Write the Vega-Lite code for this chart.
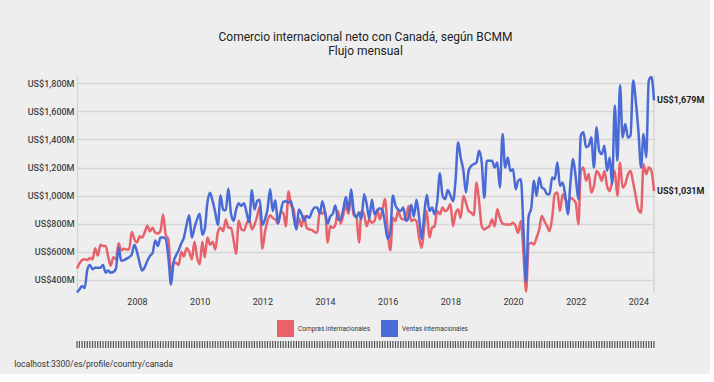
{
  "$schema": "https://vega.github.io/schema/vega-lite/v6.json",
  "background": "#eeeeee",
  "padding": {"left": 14, "top": 31, "right": 5, "bottom": 5},
  "config": {
    "font": "Roboto, sans-serif",
    "view": {"stroke": null}
  },
  "datasets": {
    "trade": [
      {"fecha":"2006-02-01","Compras internacionales":480,"Ventas internacionales":310},
      {"fecha":"2006-03-01","Compras internacionales":515,"Ventas internacionales":330},
      {"fecha":"2006-04-01","Compras internacionales":540,"Ventas internacionales":355},
      {"fecha":"2006-05-01","Compras internacionales":545,"Ventas internacionales":340},
      {"fecha":"2006-06-01","Compras internacionales":540,"Ventas internacionales":470},
      {"fecha":"2006-07-01","Compras internacionales":555,"Ventas internacionales":505},
      {"fecha":"2006-08-01","Compras internacionales":545,"Ventas internacionales":475},
      {"fecha":"2006-09-01","Compras internacionales":625,"Ventas internacionales":485},
      {"fecha":"2006-10-01","Compras internacionales":570,"Ventas internacionales":485},
      {"fecha":"2006-11-01","Compras internacionales":650,"Ventas internacionales":485},
      {"fecha":"2006-12-01","Compras internacionales":640,"Ventas internacionales":505},
      {"fecha":"2007-01-01","Compras internacionales":640,"Ventas internacionales":450},
      {"fecha":"2007-02-01","Compras internacionales":560,"Ventas internacionales":465},
      {"fecha":"2007-03-01","Compras internacionales":500,"Ventas internacionales":450},
      {"fecha":"2007-04-01","Compras internacionales":560,"Ventas internacionales":455},
      {"fecha":"2007-05-01","Compras internacionales":545,"Ventas internacionales":480},
      {"fecha":"2007-06-01","Compras internacionales":660,"Ventas internacionales":630},
      {"fecha":"2007-07-01","Compras internacionales":610,"Ventas internacionales":535},
      {"fecha":"2007-08-01","Compras internacionales":620,"Ventas internacionales":540},
      {"fecha":"2007-09-01","Compras internacionales":615,"Ventas internacionales":550},
      {"fecha":"2007-10-01","Compras internacionales":615,"Ventas internacionales":560},
      {"fecha":"2007-11-01","Compras internacionales":740,"Ventas internacionales":580},
      {"fecha":"2007-12-01","Compras internacionales":690,"Ventas internacionales":650},
      {"fecha":"2008-01-01","Compras internacionales":665,"Ventas internacionales":600},
      {"fecha":"2008-02-01","Compras internacionales":710,"Ventas internacionales":520},
      {"fecha":"2008-03-01","Compras internacionales":700,"Ventas internacionales":465},
      {"fecha":"2008-04-01","Compras internacionales":740,"Ventas internacionales":490},
      {"fecha":"2008-05-01","Compras internacionales":785,"Ventas internacionales":535},
      {"fecha":"2008-06-01","Compras internacionales":745,"Ventas internacionales":570},
      {"fecha":"2008-07-01","Compras internacionales":770,"Ventas internacionales":590},
      {"fecha":"2008-08-01","Compras internacionales":735,"Ventas internacionales":680},
      {"fecha":"2008-09-01","Compras internacionales":730,"Ventas internacionales":640},
      {"fecha":"2008-10-01","Compras internacionales":750,"Ventas internacionales":700},
      {"fecha":"2008-11-01","Compras internacionales":865,"Ventas internacionales":700},
      {"fecha":"2008-12-01","Compras internacionales":720,"Ventas internacionales":690},
      {"fecha":"2009-01-01","Compras internacionales":690,"Ventas internacionales":560},
      {"fecha":"2009-02-01","Compras internacionales":440,"Ventas internacionales":365},
      {"fecha":"2009-03-01","Compras internacionales":515,"Ventas internacionales":520},
      {"fecha":"2009-04-01","Compras internacionales":520,"Ventas internacionales":575},
      {"fecha":"2009-05-01","Compras internacionales":505,"Ventas internacionales":610},
      {"fecha":"2009-06-01","Compras internacionales":600,"Ventas internacionales":660},
      {"fecha":"2009-07-01","Compras internacionales":565,"Ventas internacionales":700},
      {"fecha":"2009-08-01","Compras internacionales":625,"Ventas internacionales":790},
      {"fecha":"2009-09-01","Compras internacionales":600,"Ventas internacionales":860},
      {"fecha":"2009-10-01","Compras internacionales":545,"Ventas internacionales":700},
      {"fecha":"2009-11-01","Compras internacionales":670,"Ventas internacionales":770},
      {"fecha":"2009-12-01","Compras internacionales":560,"Ventas internacionales":830},
      {"fecha":"2010-01-01","Compras internacionales":510,"Ventas internacionales":870},
      {"fecha":"2010-02-01","Compras internacionales":670,"Ventas internacionales":720},
      {"fecha":"2010-03-01","Compras internacionales":560,"Ventas internacionales":760},
      {"fecha":"2010-04-01","Compras internacionales":700,"Ventas internacionales":950},
      {"fecha":"2010-05-01","Compras internacionales":650,"Ventas internacionales":1020},
      {"fecha":"2010-06-01","Compras internacionales":670,"Ventas internacionales":960},
      {"fecha":"2010-07-01","Compras internacionales":615,"Ventas internacionales":880},
      {"fecha":"2010-08-01","Compras internacionales":740,"Ventas internacionales":790},
      {"fecha":"2010-09-01","Compras internacionales":770,"Ventas internacionales":1000},
      {"fecha":"2010-10-01","Compras internacionales":745,"Ventas internacionales":900},
      {"fecha":"2010-11-01","Compras internacionales":830,"Ventas internacionales":895},
      {"fecha":"2010-12-01","Compras internacionales":770,"Ventas internacionales":1050},
      {"fecha":"2011-01-01","Compras internacionales":770,"Ventas internacionales":870},
      {"fecha":"2011-02-01","Compras internacionales":680,"Ventas internacionales":820},
      {"fecha":"2011-03-01","Compras internacionales":585,"Ventas internacionales":900},
      {"fecha":"2011-04-01","Compras internacionales":820,"Ventas internacionales":945},
      {"fecha":"2011-05-01","Compras internacionales":760,"Ventas internacionales":925},
      {"fecha":"2011-06-01","Compras internacionales":750,"Ventas internacionales":945},
      {"fecha":"2011-07-01","Compras internacionales":800,"Ventas internacionales":880},
      {"fecha":"2011-08-01","Compras internacionales":830,"Ventas internacionales":810},
      {"fecha":"2011-09-01","Compras internacionales":760,"Ventas internacionales":1040},
      {"fecha":"2011-10-01","Compras internacionales":790,"Ventas internacionales":900},
      {"fecha":"2011-11-01","Compras internacionales":850,"Ventas internacionales":960},
      {"fecha":"2011-12-01","Compras internacionales":920,"Ventas internacionales":970},
      {"fecha":"2012-01-01","Compras internacionales":620,"Ventas internacionales":790},
      {"fecha":"2012-02-01","Compras internacionales":740,"Ventas internacionales":830},
      {"fecha":"2012-03-01","Compras internacionales":820,"Ventas internacionales":900},
      {"fecha":"2012-04-01","Compras internacionales":860,"Ventas internacionales":1045},
      {"fecha":"2012-05-01","Compras internacionales":840,"Ventas internacionales":890},
      {"fecha":"2012-06-01","Compras internacionales":830,"Ventas internacionales":966},
      {"fecha":"2012-07-01","Compras internacionales":800,"Ventas internacionales":800},
      {"fecha":"2012-08-01","Compras internacionales":880,"Ventas internacionales":880},
      {"fecha":"2012-09-01","Compras internacionales":880,"Ventas internacionales":955},
      {"fecha":"2012-10-01","Compras internacionales":780,"Ventas internacionales":960},
      {"fecha":"2012-11-01","Compras internacionales":1030,"Ventas internacionales":950},
      {"fecha":"2012-12-01","Compras internacionales":930,"Ventas internacionales":960},
      {"fecha":"2013-01-01","Compras internacionales":900,"Ventas internacionales":845},
      {"fecha":"2013-02-01","Compras internacionales":760,"Ventas internacionales":760},
      {"fecha":"2013-03-01","Compras internacionales":840,"Ventas internacionales":900},
      {"fecha":"2013-04-01","Compras internacionales":780,"Ventas internacionales":870},
      {"fecha":"2013-05-01","Compras internacionales":854,"Ventas internacionales":820},
      {"fecha":"2013-06-01","Compras internacionales":770,"Ventas internacionales":854},
      {"fecha":"2013-07-01","Compras internacionales":758,"Ventas internacionales":842},
      {"fecha":"2013-08-01","Compras internacionales":755,"Ventas internacionales":885},
      {"fecha":"2013-09-01","Compras internacionales":740,"Ventas internacionales":915},
      {"fecha":"2013-10-01","Compras internacionales":735,"Ventas internacionales":915},
      {"fecha":"2013-11-01","Compras internacionales":890,"Ventas internacionales":870},
      {"fecha":"2013-12-01","Compras internacionales":870,"Ventas internacionales":960},
      {"fecha":"2014-01-01","Compras internacionales":890,"Ventas internacionales":880},
      {"fecha":"2014-02-01","Compras internacionales":665,"Ventas internacionales":800},
      {"fecha":"2014-03-01","Compras internacionales":782,"Ventas internacionales":850},
      {"fecha":"2014-04-01","Compras internacionales":770,"Ventas internacionales":870},
      {"fecha":"2014-05-01","Compras internacionales":790,"Ventas internacionales":930},
      {"fecha":"2014-06-01","Compras internacionales":890,"Ventas internacionales":830},
      {"fecha":"2014-07-01","Compras internacionales":800,"Ventas internacionales":830},
      {"fecha":"2014-08-01","Compras internacionales":860,"Ventas internacionales":900},
      {"fecha":"2014-09-01","Compras internacionales":935,"Ventas internacionales":990},
      {"fecha":"2014-10-01","Compras internacionales":870,"Ventas internacionales":890},
      {"fecha":"2014-11-01","Compras internacionales":1005,"Ventas internacionales":1045},
      {"fecha":"2014-12-01","Compras internacionales":860,"Ventas internacionales":890},
      {"fecha":"2015-01-01","Compras internacionales":850,"Ventas internacionales":845},
      {"fecha":"2015-02-01","Compras internacionales":665,"Ventas internacionales":880},
      {"fecha":"2015-03-01","Compras internacionales":890,"Ventas internacionales":830},
      {"fecha":"2015-04-01","Compras internacionales":866,"Ventas internacionales":1010},
      {"fecha":"2015-05-01","Compras internacionales":782,"Ventas internacionales":940},
      {"fecha":"2015-06-01","Compras internacionales":830,"Ventas internacionales":835},
      {"fecha":"2015-07-01","Compras internacionales":806,"Ventas internacionales":970},
      {"fecha":"2015-08-01","Compras internacionales":818,"Ventas internacionales":866},
      {"fecha":"2015-09-01","Compras internacionales":900,"Ventas internacionales":890},
      {"fecha":"2015-10-01","Compras internacionales":830,"Ventas internacionales":910},
      {"fecha":"2015-11-01","Compras internacionales":900,"Ventas internacionales":895},
      {"fecha":"2015-12-01","Compras internacionales":975,"Ventas internacionales":800},
      {"fecha":"2016-01-01","Compras internacionales":746,"Ventas internacionales":690},
      {"fecha":"2016-02-01","Compras internacionales":610,"Ventas internacionales":740},
      {"fecha":"2016-03-01","Compras internacionales":842,"Ventas internacionales":1000},
      {"fecha":"2016-04-01","Compras internacionales":818,"Ventas internacionales":930},
      {"fecha":"2016-05-01","Compras internacionales":890,"Ventas internacionales":900},
      {"fecha":"2016-06-01","Compras internacionales":842,"Ventas internacionales":890},
      {"fecha":"2016-07-01","Compras internacionales":830,"Ventas internacionales":914},
      {"fecha":"2016-08-01","Compras internacionales":842,"Ventas internacionales":820},
      {"fecha":"2016-09-01","Compras internacionales":926,"Ventas internacionales":842},
      {"fecha":"2016-10-01","Compras internacionales":818,"Ventas internacionales":935},
      {"fecha":"2016-11-01","Compras internacionales":830,"Ventas internacionales":850},
      {"fecha":"2016-12-01","Compras internacionales":818,"Ventas internacionales":970},
      {"fecha":"2017-01-01","Compras internacionales":700,"Ventas internacionales":845},
      {"fecha":"2017-02-01","Compras internacionales":627,"Ventas internacionales":690},
      {"fecha":"2017-03-01","Compras internacionales":770,"Ventas internacionales":860},
      {"fecha":"2017-04-01","Compras internacionales":890,"Ventas internacionales":1005},
      {"fecha":"2017-05-01","Compras internacionales":700,"Ventas internacionales":890},
      {"fecha":"2017-06-01","Compras internacionales":770,"Ventas internacionales":914},
      {"fecha":"2017-07-01","Compras internacionales":782,"Ventas internacionales":866},
      {"fecha":"2017-08-01","Compras internacionales":890,"Ventas internacionales":960},
      {"fecha":"2017-09-01","Compras internacionales":866,"Ventas internacionales":1160},
      {"fecha":"2017-10-01","Compras internacionales":914,"Ventas internacionales":1000},
      {"fecha":"2017-11-01","Compras internacionales":890,"Ventas internacionales":975},
      {"fecha":"2017-12-01","Compras internacionales":902,"Ventas internacionales":1040},
      {"fecha":"2018-01-01","Compras internacionales":940,"Ventas internacionales":1000},
      {"fecha":"2018-02-01","Compras internacionales":782,"Ventas internacionales":960},
      {"fecha":"2018-03-01","Compras internacionales":870,"Ventas internacionales":1100},
      {"fecha":"2018-04-01","Compras internacionales":900,"Ventas internacionales":1380},
      {"fecha":"2018-05-01","Compras internacionales":840,"Ventas internacionales":1270},
      {"fecha":"2018-06-01","Compras internacionales":997,"Ventas internacionales":1180},
      {"fecha":"2018-07-01","Compras internacionales":949,"Ventas internacionales":1021},
      {"fecha":"2018-08-01","Compras internacionales":890,"Ventas internacionales":1176},
      {"fecha":"2018-09-01","Compras internacionales":878,"Ventas internacionales":1212},
      {"fecha":"2018-10-01","Compras internacionales":860,"Ventas internacionales":1224},
      {"fecha":"2018-11-01","Compras internacionales":1093,"Ventas internacionales":1236},
      {"fecha":"2018-12-01","Compras internacionales":961,"Ventas internacionales":1320},
      {"fecha":"2019-01-01","Compras internacionales":782,"Ventas internacionales":1236},
      {"fecha":"2019-02-01","Compras internacionales":758,"Ventas internacionales":985},
      {"fecha":"2019-03-01","Compras internacionales":770,"Ventas internacionales":1248},
      {"fecha":"2019-04-01","Compras internacionales":782,"Ventas internacionales":1248},
      {"fecha":"2019-05-01","Compras internacionales":830,"Ventas internacionales":1248},
      {"fecha":"2019-06-01","Compras internacionales":780,"Ventas internacionales":1200},
      {"fecha":"2019-07-01","Compras internacionales":902,"Ventas internacionales":1236},
      {"fecha":"2019-08-01","Compras internacionales":842,"Ventas internacionales":1057},
      {"fecha":"2019-09-01","Compras internacionales":800,"Ventas internacionales":1439},
      {"fecha":"2019-10-01","Compras internacionales":794,"Ventas internacionales":1200},
      {"fecha":"2019-11-01","Compras internacionales":794,"Ventas internacionales":1272},
      {"fecha":"2019-12-01","Compras internacionales":794,"Ventas internacionales":1176},
      {"fecha":"2020-01-01","Compras internacionales":806,"Ventas internacionales":1188},
      {"fecha":"2020-02-01","Compras internacionales":780,"Ventas internacionales":1045},
      {"fecha":"2020-03-01","Compras internacionales":734,"Ventas internacionales":1105},
      {"fecha":"2020-04-01","Compras internacionales":818,"Ventas internacionales":1117},
      {"fecha":"2020-05-01","Compras internacionales":600,"Ventas internacionales":770},
      {"fecha":"2020-06-01","Compras internacionales":316,"Ventas internacionales":385},
      {"fecha":"2020-07-01","Compras internacionales":650,"Ventas internacionales":850},
      {"fecha":"2020-08-01","Compras internacionales":663,"Ventas internacionales":914},
      {"fecha":"2020-09-01","Compras internacionales":651,"Ventas internacionales":1105},
      {"fecha":"2020-10-01","Compras internacionales":700,"Ventas internacionales":997},
      {"fecha":"2020-11-01","Compras internacionales":758,"Ventas internacionales":1129},
      {"fecha":"2020-12-01","Compras internacionales":854,"Ventas internacionales":1057},
      {"fecha":"2021-01-01","Compras internacionales":818,"Ventas internacionales":1045},
      {"fecha":"2021-02-01","Compras internacionales":782,"Ventas internacionales":1009},
      {"fecha":"2021-03-01","Compras internacionales":746,"Ventas internacionales":1009},
      {"fecha":"2021-04-01","Compras internacionales":842,"Ventas internacionales":1129},
      {"fecha":"2021-05-01","Compras internacionales":1009,"Ventas internacionales":1117},
      {"fecha":"2021-06-01","Compras internacionales":1021,"Ventas internacionales":1236},
      {"fecha":"2021-07-01","Compras internacionales":890,"Ventas internacionales":1069},
      {"fecha":"2021-08-01","Compras internacionales":1009,"Ventas internacionales":1093},
      {"fecha":"2021-09-01","Compras internacionales":973,"Ventas internacionales":1000},
      {"fecha":"2021-10-01","Compras internacionales":949,"Ventas internacionales":866},
      {"fecha":"2021-11-01","Compras internacionales":985,"Ventas internacionales":1100},
      {"fecha":"2021-12-01","Compras internacionales":973,"Ventas internacionales":1260},
      {"fecha":"2022-01-01","Compras internacionales":949,"Ventas internacionales":1129},
      {"fecha":"2022-02-01","Compras internacionales":794,"Ventas internacionales":973},
      {"fecha":"2022-03-01","Compras internacionales":1176,"Ventas internacionales":1427},
      {"fecha":"2022-04-01","Compras internacionales":1200,"Ventas internacionales":1451},
      {"fecha":"2022-05-01","Compras internacionales":1105,"Ventas internacionales":1344},
      {"fecha":"2022-06-01","Compras internacionales":1153,"Ventas internacionales":1355},
      {"fecha":"2022-07-01","Compras internacionales":1021,"Ventas internacionales":1415},
      {"fecha":"2022-08-01","Compras internacionales":1069,"Ventas internacionales":1200},
      {"fecha":"2022-09-01","Compras internacionales":1176,"Ventas internacionales":1487},
      {"fecha":"2022-10-01","Compras internacionales":1153,"Ventas internacionales":1320},
      {"fecha":"2022-11-01","Compras internacionales":1105,"Ventas internacionales":1296},
      {"fecha":"2022-12-01","Compras internacionales":1176,"Ventas internacionales":1355},
      {"fecha":"2023-01-01","Compras internacionales":1069,"Ventas internacionales":1176},
      {"fecha":"2023-02-01","Compras internacionales":1033,"Ventas internacionales":1272},
      {"fecha":"2023-03-01","Compras internacionales":1100,"Ventas internacionales":1081},
      {"fecha":"2023-04-01","Compras internacionales":1176,"Ventas internacionales":1642},
      {"fecha":"2023-05-01","Compras internacionales":997,"Ventas internacionales":1248},
      {"fecha":"2023-06-01","Compras internacionales":1236,"Ventas internacionales":1786},
      {"fecha":"2023-07-01","Compras internacionales":1057,"Ventas internacionales":1415},
      {"fecha":"2023-08-01","Compras internacionales":1081,"Ventas internacionales":1511},
      {"fecha":"2023-09-01","Compras internacionales":1150,"Ventas internacionales":1415},
      {"fecha":"2023-10-01","Compras internacionales":1176,"Ventas internacionales":1427},
      {"fecha":"2023-11-01","Compras internacionales":1093,"Ventas internacionales":1821},
      {"fecha":"2023-12-01","Compras internacionales":997,"Ventas internacionales":1678},
      {"fecha":"2024-01-01","Compras internacionales":900,"Ventas internacionales":1463},
      {"fecha":"2024-02-01","Compras internacionales":878,"Ventas internacionales":1200},
      {"fecha":"2024-03-01","Compras internacionales":1224,"Ventas internacionales":1439},
      {"fecha":"2024-04-01","Compras internacionales":1153,"Ventas internacionales":1272},
      {"fecha":"2024-05-01","Compras internacionales":1200,"Ventas internacionales":1821},
      {"fecha":"2024-06-01","Compras internacionales":1176,"Ventas internacionales":1845},
      {"fecha":"2024-07-01","Compras internacionales":1031,"Ventas internacionales":1679}
    ]
  },
  "title": {
    "text": "localhost:3300/es/profile/country/canada",
    "orient": "bottom",
    "anchor": "start",
    "fontSize": 8.5,
    "fontWeight": "normal",
    "color": "#333333",
    "offset": 12,
    "dx": -13
  },
  "spacing": 35,
  "resolve": {"scale": {"x": "independent"}},
  "vconcat": [
    {
      "width": 577,
      "height": 218,
      "title": {
        "text": ["Comercio internacional neto con Canadá, según BCMM", "Flujo mensual"],
        "fontSize": 12,
        "fontWeight": "normal",
        "lineHeight": 14,
        "color": "#222222",
        "offset": 14
      },
      "data": {"name": "trade"},
      "transform": [
        {"fold": ["Compras internacionales", "Ventas internacionales"], "as": ["serie", "valor"]}
      ],
      "encoding": {
        "x": {
          "field": "fecha",
          "type": "temporal",
          "scale": {"type": "utc"},
          "axis": {
            "title": null,
            "format": "%Y",
            "values": [
              {"year": 2008, "utc": true}, {"year": 2010, "utc": true}, {"year": 2012, "utc": true},
              {"year": 2014, "utc": true}, {"year": 2016, "utc": true}, {"year": 2018, "utc": true},
              {"year": 2020, "utc": true}, {"year": 2022, "utc": true}, {"year": 2024, "utc": true}
            ],
            "grid": false,
            "domain": false,
            "ticks": false,
            "labelPadding": 4,
            "labelFontSize": 9,
            "labelColor": "#333333"
          }
        },
        "y": {
          "field": "valor",
          "type": "quantitative",
          "scale": {"domain": [305, 1860], "nice": false, "zero": false},
          "axis": {
            "title": null,
            "values": [400, 600, 800, 1000, 1200, 1400, 1600, 1800],
            "labelExpr": "'US$' + format(datum.value, ',') + 'M'",
            "labelOverlap": false,
            "grid": true,
            "gridColor": "#d6d6d6",
            "gridWidth": 1.5,
            "domainColor": "#d6d6d6",
            "domainWidth": 1.5,
            "ticks": false,
            "labelPadding": 3,
            "labelFontSize": 9,
            "labelFontWeight": 500,
            "labelColor": "#444444"
          }
        }
      },
      "layer": [
        {
          "mark": {"type": "rule", "color": "#d6d6d6", "strokeWidth": 1.5},
          "encoding": {
            "x": {"aggregate": "max", "field": "fecha", "type": "temporal"},
            "y": null
          }
        },
        {
          "mark": {"type": "line", "strokeWidth": 2.5, "interpolate": "monotone"},
          "encoding": {
            "color": {
              "field": "serie",
              "type": "nominal",
              "scale": {"domain": ["Compras internacionales", "Ventas internacionales"], "range": ["#e8626b", "#4a6bd6"]},
              "legend": {
                "title": null,
                "orient": "none",
                "legendX": 200,
                "legendY": 245,
                "direction": "horizontal",
                "symbolType": "square",
                "symbolSize": 289,
                "symbolStrokeWidth": 0,
                "labelFontSize": 6.5,
                "labelColor": "#333333",
                "columnPadding": 10,
                "encode": {
                  "symbols": {"update": {"fill": {"scale": "color", "field": "value"}, "fillOpacity": {"value": 1}}}
                }
              }
            }
          }
        },
        {
          "transform": [
            {"aggregate": [{"op": "argmax", "field": "fecha", "as": "ultimo"}], "groupby": ["serie"]},
            {"calculate": "datum.ultimo.fecha", "as": "fecha"},
            {"calculate": "datum.ultimo.valor", "as": "valor"},
            {"calculate": "'US$' + format(datum.valor, ',') + 'M'", "as": "etiqueta"}
          ],
          "mark": {"type": "text", "align": "left", "dx": 3, "fontWeight": "bold", "fontSize": 9, "color": "#222222"},
          "encoding": {
            "text": {"field": "etiqueta"}
          }
        }
      ]
    },
    {
      "width": 577,
      "height": 7,
      "data": {"name": "trade"},
      "mark": {"type": "tick", "color": "#111111", "thickness": 1.2, "size": 7},
      "encoding": {
        "x": {"field": "fecha", "type": "temporal", "scale": {"type": "utc"}, "axis": null}
      }
    }
  ]
}
